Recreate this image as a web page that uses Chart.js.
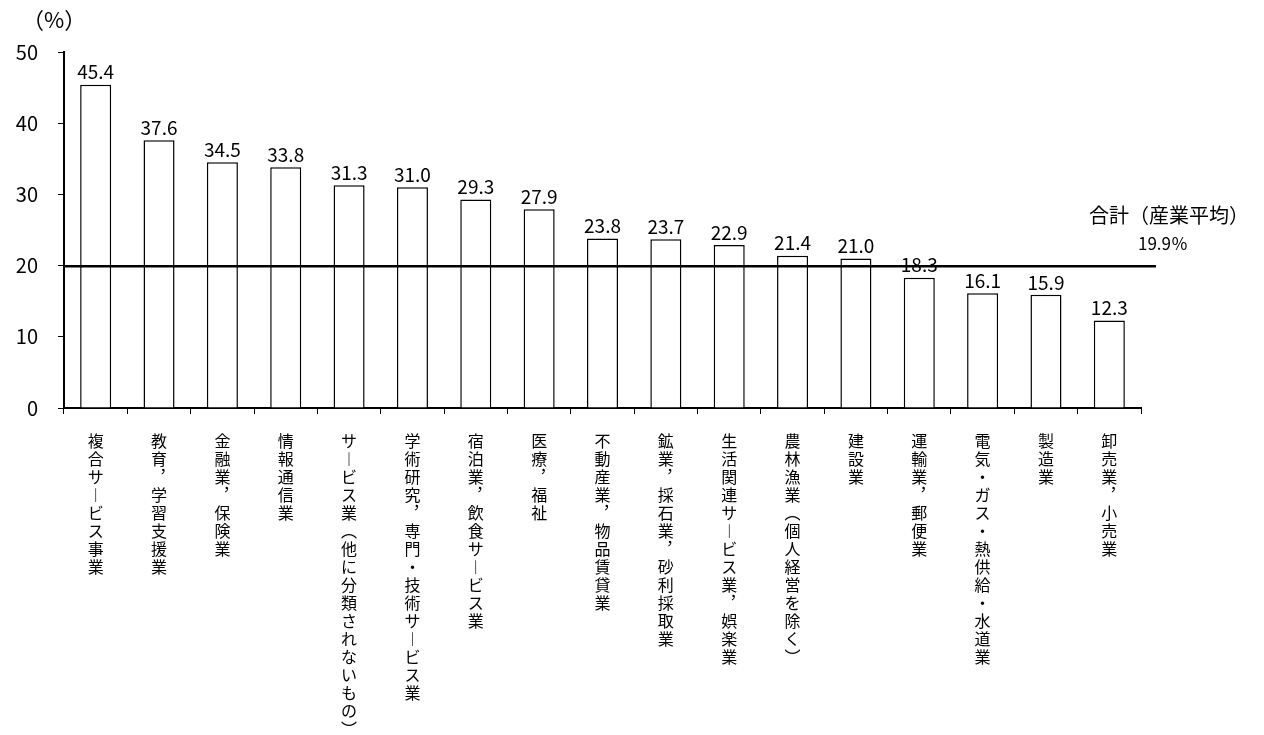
<!DOCTYPE html>
<html>
<head>
<meta charset="utf-8">
<script src="https://cdn.jsdelivr.net/npm/chart.js@4.4.1/dist/chart.umd.min.js"></script>
<style>
    html, body { margin: 0; padding: 0; background: #fff; }
    #wrap { width: 1264px; height: 735px; }
</style>
</head>
<body>
<div id="wrap"><canvas id="myChart" width="1264" height="735"></canvas></div>
<script>
        const categories = [
            '複合サービス事業',
            '教育，学習支援業',
            '金融業，保険業',
            '情報通信業',
            'サービス業（他に分類されないもの）',
            '学術研究，専門・技術サービス業',
            '宿泊業，飲食サービス業',
            '医療，福祉',
            '不動産業，物品賃貸業',
            '鉱業，採石業，砂利採取業',
            '生活関連サービス業，娯楽業',
            '農林漁業（個人経営を除く）',
            '建設業',
            '運輸業，郵便業',
            '電気・ガス・熱供給・水道業',
            '製造業',
            '卸売業，小売業'
        ];
        const rates = [45.4, 37.6, 34.5, 33.8, 31.3, 31.0, 29.3, 27.9, 23.8, 23.7, 22.9, 21.4, 21.0, 18.3, 16.1, 15.9, 12.3];
        const yTicks = [0, 10, 20, 30, 40, 50];
        const average = 19.9;
        const averageLabel = '合計（産業平均）';
        const averageValueLabel = '19.9％';
        const unitLabel = '（%）';

        const jpFont = '"Noto Sans CJK JP", "Noto Sans", sans-serif';

        // horizontal glyphs -> vertical presentation forms for stacked labels
        const vertForms = { 'ー': '︱', '（': '︵', '）': '︶', '，': '︐' };

        function toVertical(text) {
            return text.split('').map(function (ch) {
                return vertForms[ch] || ch;
            });
        }

        const extras = {
            id: 'extras',
            afterDatasetsDraw(chart) {
                const ctx = chart.ctx;
                const area = chart.chartArea;
                const y = chart.scales.y;
                const meta = chart.getDatasetMeta(0);

                ctx.save();
                ctx.fillStyle = '#000';
                ctx.font = '19px ' + jpFont;
                ctx.textAlign = 'center';
                ctx.textBaseline = 'bottom';
                meta.data.forEach(function (bar, i) {
                    ctx.fillText(rates[i].toFixed(1), bar.x, bar.y - 3);
                });

                // average line
                const ay = y.getPixelForValue(average);
                ctx.strokeStyle = '#000';
                ctx.lineWidth = 2.5;
                ctx.beginPath();
                ctx.moveTo(area.left, ay);
                ctx.lineTo(area.right + 15, ay);
                ctx.stroke();

                ctx.textAlign = 'left';
                ctx.textBaseline = 'middle';
                ctx.font = '20px ' + jpFont;
                ctx.fillText(averageLabel, area.right - 52, ay - 51);
                ctx.font = '17px ' + jpFont;
                ctx.fillText(averageValueLabel, area.right - 3, ay - 23);

                ctx.font = '22px ' + jpFont;
                ctx.fillText(unitLabel, 22, 20);
                ctx.restore();
            }
        };

        const ctx = document.getElementById('myChart').getContext('2d');
        const myChart = new Chart(ctx, {
            type: 'bar',
            data: {
                labels: categories,
                datasets: [{
                    data: rates,
                    backgroundColor: '#fff',
                    borderColor: '#000',
                    borderWidth: 1.5,
                    categoryPercentage: 1,
                    barPercentage: 0.49
                }]
            },
            options: {
                responsive: false,
                animation: false,
                layout: { padding: { top: 52, right: 123, left: 0, bottom: 0 } },
                plugins: {
                    legend: { display: false },
                    tooltip: { enabled: false }
                },
                scales: {
                    x: {
                        grid: { drawOnChartArea: false, tickLength: 6, color: '#000', offset: true },
                        border: { color: '#000', width: 2 },
                        ticks: {
                            color: '#000',
                            font: { family: jpFont, size: 16, lineHeight: 1.125 },
                            autoSkip: false,
                            maxRotation: 0,
                            minRotation: 0,
                            padding: 18,
                            callback: function (v, i) {
                                return toVertical(categories[i]);
                            }
                        },
                        afterFit: function (scale) {
                            scale.height = 327;
                        }
                    },
                    y: {
                        min: 0,
                        max: 50,
                        afterBuildTicks: function (scale) {
                            scale.ticks = yTicks.map(function (v) { return { value: v }; });
                        },
                        grid: { drawOnChartArea: false, tickLength: 6, color: '#000' },
                        border: { color: '#000', width: 2 },
                        ticks: {
                            color: '#000',
                            font: { family: jpFont, size: 20 },
                            padding: 20
                        },
                        afterFit: function (scale) {
                            scale.width = 64;
                        }
                    }
                }
            },
            plugins: [extras]
        });
</script>
</body>
</html>
